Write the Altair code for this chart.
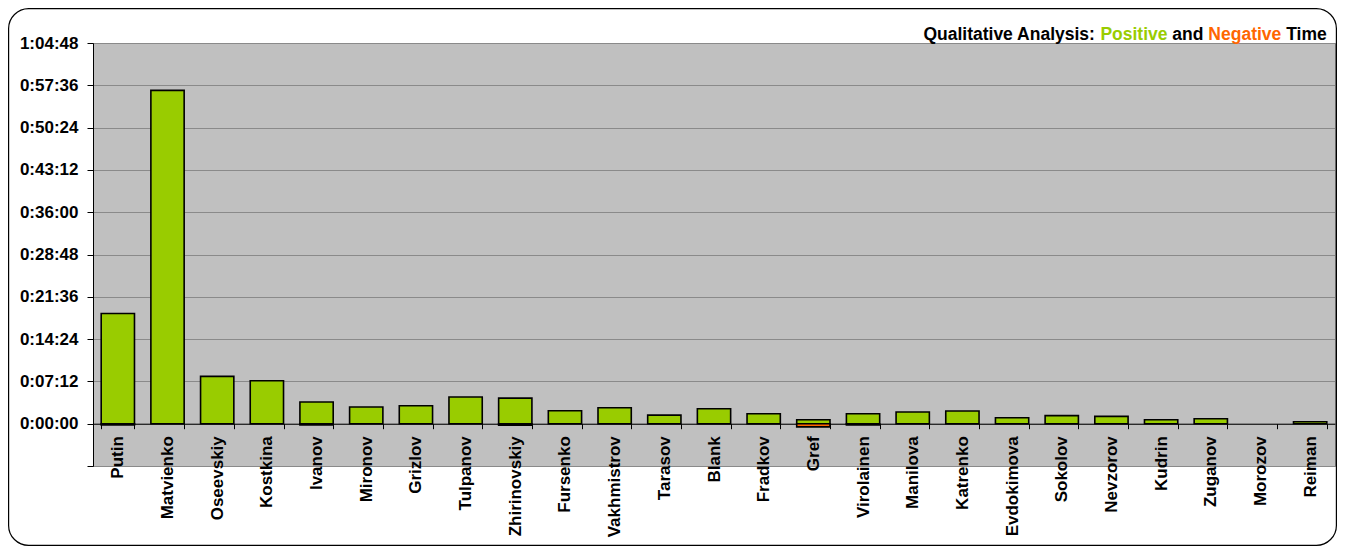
import altair as alt
import pandas as pd

# ---- data (seconds) ----
names = ["Putin", "Matvienko", "Oseevskiy", "Kostkina", "Ivanov", "Mironov", "Grizlov",
         "Tulpanov", "Zhirinovskiy", "Fursenko", "Vakhmistrov", "Tarasov", "Blank",
         "Fradkov", "Gref", "Virolainen", "Manilova", "Katrenko", "Evdokimova",
         "Sokolov", "Nevzorov", "Kudrin", "Zuganov", "Morozov", "Reiman"]
positive_seconds = [1126, 3404, 483, 439, 221, 170, 184, 272, 261, 133, 163, 88, 153,
                    102, 41, 102, 119, 129, 61, 82, 75, 41, 51, 0, 20]
negative_seconds = [-12, 0, 0, 0, -12, 0, 0, 0, -15, 0, 0, 0, 0,
                    0, -32, -12, 0, 0, 0, 0, 0, 0, 0, 0, 0]
y_ticks = [-432, 0, 432, 864, 1296, 1728, 2160, 2592, 3024, 3456, 3888]

title_parts = ["Qualitative Analysis: ", "Positive ", "and ", "Negative ", "Time"]
title_colors = ["black", "#99CC00", "black", "#FF6600", "black"]

df = pd.DataFrame({"name": names, "pos": positive_seconds, "neg": negative_seconds})

W, H = 1242, 423
FONT = "Liberation Sans"
LABEL_SIZE = 17
TITLE_SIZE = 17.5

y_scale = alt.Scale(domain=[y_ticks[0], y_ticks[-1]], nice=False, zero=False)
zero_offset = -H * (0 - y_ticks[0]) / (y_ticks[-1] - y_ticks[0])

x_axis = alt.Axis(title=None, labelAngle=-90, tickBand="extent", offset=zero_offset,
                  tickSize=5, tickColor="black", domainColor="black", domainWidth=1,
                  labelPadding=7, labelFont=FONT, labelFontWeight="bold",
                  labelFontSize=LABEL_SIZE, labelColor="black", grid=False)
y_axis = alt.Axis(title=None, values=y_ticks,
                  labelExpr="datum.value < 0 ? '' : utcFormat(datum.value * 1000, '%-H:%M:%S')",
                  grid=True, gridColor="#8a8a8a", gridWidth=1, domainColor="black",
                  tickColor="black", tickSize=6, labelPadding=9, labelFont=FONT,
                  labelFontWeight="bold", labelFontSize=LABEL_SIZE, labelColor="black")

x_enc = alt.X("name:N", sort=names,
              scale=alt.Scale(domain=names, paddingInner=0.33, paddingOuter=0.165),
              axis=x_axis)

pos = alt.Chart(df).transform_filter("datum.pos > 0").mark_bar(
    color="#99CC00", stroke="black", strokeWidth=1.6).encode(
    x=x_enc, y=alt.Y("pos:Q", scale=y_scale, axis=y_axis))
neg = alt.Chart(df).transform_filter("datum.neg < 0").mark_bar(
    color="#FF6600", stroke="black", strokeWidth=1.6).encode(
    x=x_enc, y=alt.Y("neg:Q", scale=y_scale, axis=y_axis))

# ---- title built from coloured pieces (Arial/Liberation bold advance widths /1000 em) ----
adv = {"Q": 778, "u": 611, "a": 556, "l": 278, "i": 278, "t": 333, "v": 556, "e": 556,
       " ": 278, "A": 722, "n": 611, "y": 556, "s": 556, ":": 333, "P": 667, "o": 611,
       "d": 611, "N": 722, "g": 611, "T": 611, "m": 889}
widths = [sum(adv.get(c, 556) for c in p) * TITLE_SIZE / 1000 for p in title_parts]
right_edge = W - 8
xs = []
cur = right_edge - sum(widths)
for w in widths:
    xs.append(cur)
    cur += w

one = pd.DataFrame({"k": [0]})
title_layers = [
    alt.Chart(one).mark_text(text=t, align="left", baseline="alphabetic", font=FONT,
                             fontWeight="bold", fontSize=TITLE_SIZE, color=c).encode(
        x=alt.value(xx), y=alt.value(-3))
    for t, c, xx in zip(title_parts, title_colors, xs)
]

frame = alt.Chart(one).mark_rect(fill=None, stroke="black", strokeWidth=1.2,
                                 cornerRadius=20).encode(
    x=alt.value(-84.4), x2=alt.value(W + 1.4), y=alt.value(-34.4), y2=alt.value(H + 79.4))

chart = alt.layer(pos, neg, *title_layers, frame).properties(
    width=W, height=H,
    background="white",
    autosize=alt.AutoSizeParams(type="none"),
    padding={"left": 85, "top": 35, "right": 2, "bottom": 80},
).configure_view(fill="#C0C0C0", stroke="#808080", strokeWidth=1)

chart.save("out.html", embed_options={"renderer": "svg", "actions": False})
